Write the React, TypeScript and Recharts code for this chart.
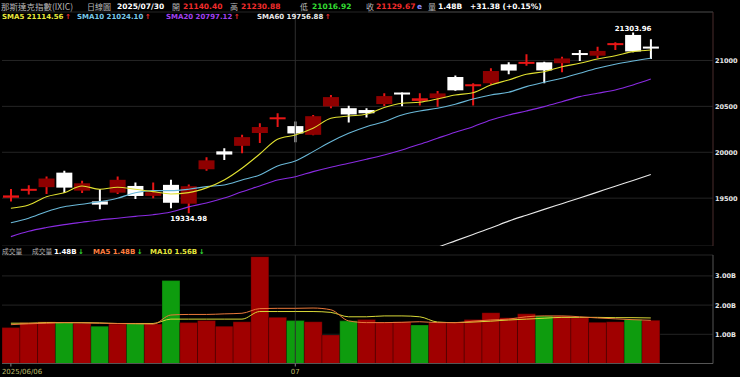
import React from 'react';
import { ComposedChart, Bar, Line, XAxis, YAxis, CartesianGrid, ReferenceLine, Cell } from 'recharts';

const dates = ['2025/06/06','2025/06/09','2025/06/10','2025/06/11','2025/06/12','2025/06/13','2025/06/16','2025/06/17','2025/06/18','2025/06/20','2025/06/23','2025/06/24','2025/06/25','2025/06/26','2025/06/27','2025/06/30','2025/07/01','2025/07/02','2025/07/03','2025/07/07','2025/07/08','2025/07/09','2025/07/10','2025/07/11','2025/07/14','2025/07/15','2025/07/16','2025/07/17','2025/07/18','2025/07/21','2025/07/22','2025/07/23','2025/07/24','2025/07/25','2025/07/28','2025/07/29','2025/07/30'];
const opens  = [19505,19572,19620,19778,19582,19465,19560,19633,19525,19645,19440,19815,20010,20070,20210,20360,20285,20190,20500,20480,20460,20525,20640,20560,20590,20820,20715,20752,20958,20960,20980,20970,21070,21052,21165,21278,21140.40];
const highs  = [19600,19640,19735,19800,19690,19600,19735,19670,19670,19700,19650,19946,20045,20190,20315,20425,20335,20405,20624,20508,20480,20643,20650,20643,20668,20835,20752,20915,20980,21068,20987,21040,21114,21150,21198,21303.96,21230.88];
const lows   = [19465,19540,19545,19555,19555,19380,19545,19490,19500,19390,19334.98,19800,19915,19990,20100,20275,20110,20185,20480,20325,20380,20505,20500,20510,20497,20670,20510,20735,20850,20943,20752,20871,20995,21024,21114,21090,21016.92];
const closes = [19530,19591,19714,19615,19662,19430,19700,19524,19565,19450,19630,19912,19975,20165,20275,20370,20205,20393,20601,20412,20425,20612,20630,20588,20641,20675,20730,20885,20890,20974,20892,21022,21058,21104,21178,21098.29,21129.67];
const sma5  = [19390,19426,19516,19560,19633,19597,19619,19597,19571,19546,19560,19612,19698,19826,19981,20142,20188,20261,20370,20395,20414,20488,20534,20545,20581,20624,20649,20733,20788,20850,20878,20932,20969,21016,21052,21096,21114.56];
const sma10 = [19233,19281,19353,19407,19434,19462,19499,19560,19582,19582,19597,19626,19644,19698,19753,19851,19905,20007,20115,20207,20279,20333,20406,20450,20479,20523,20581,20624,20654,20715,20763,20806,20861,20915,20959,20994,21024.10];
const sma20 = [19081,19140,19180,19212,19238,19263,19282,19302,19320,19350,19405,19448,19502,19570,19633,19698,19734,19789,19837,19880,19924,19971,20025,20087,20153,20218,20279,20352,20406,20450,20497,20551,20606,20643,20679,20733,20797.12];
const sma60: (number | null)[] = [null,null,null,null,null,null,null,null,null,null,null,null,null,null,null,null,null,null,null,null,null,null,null,18900,18965,19035,19105,19175,19250,19315,19378,19440,19502,19566,19630,19693,19756.88];
const volumes = [1.23,1.40,1.43,1.41,1.38,1.28,1.35,1.38,1.35,2.84,1.40,1.47,1.28,1.43,3.66,1.58,1.47,1.43,0.98,1.46,1.51,1.41,1.43,1.32,1.40,1.40,1.51,1.74,1.57,1.70,1.63,1.63,1.57,1.41,1.43,1.51,1.48];
const volUp = [true,true,true,false,true,false,true,false,true,false,true,true,true,true,true,true,false,true,true,false,true,true,true,false,true,true,true,true,true,true,false,true,true,true,true,false,true];
const volMa5  = [1.33,1.36,1.38,1.40,1.39,1.38,1.37,1.36,1.35,1.66,1.68,1.68,1.70,1.72,1.88,1.89,1.89,1.90,1.84,1.46,1.40,1.40,1.41,1.43,1.40,1.40,1.45,1.49,1.52,1.60,1.63,1.63,1.60,1.56,1.53,1.50,1.48];
const volMa10 = [1.38,1.38,1.40,1.40,1.40,1.39,1.37,1.37,1.37,1.52,1.52,1.52,1.52,1.52,1.78,1.78,1.78,1.78,1.75,1.60,1.60,1.63,1.63,1.60,1.42,1.40,1.42,1.45,1.49,1.52,1.55,1.58,1.58,1.58,1.57,1.57,1.56];
const emptySlots = ['pad1', 'pad2', 'pad3'];
const priceTicks = [19500, 20000, 20500, 21000];
const volTicks = [1, 2, 3];
const dateTickLabels: Record<string, string> = { '2025/06/06': '2025/06/06', '2025/07/01': '07' };
const monthStart = '2025/07/01';

const F = "'DejaVu Sans', sans-serif";
const CJK = "'Noto Sans CJK TC', 'Noto Sans CJK SC', sans-serif";
const RED = '#f02c2c';
const GREEN = '#33dd33';

const rows: any[] = [
  ...dates.map((d, i) => ({
    date: d, open: opens[i], high: highs[i], low: lows[i], close: closes[i],
    sma5: sma5[i], sma10: sma10[i], sma20: sma20[i], sma60: sma60[i],
    vol: volumes[i], up: volUp[i], vma5: volMa5[i], vma10: volMa10[i],
  })),
  ...emptySlots.map((d) => ({ date: d })),
];

const maxIdx = highs.indexOf(Math.max(...highs));
const minIdx = lows.indexOf(Math.min(...lows));

const Candle = (p: any) => {
  const { x, y, width, height, payload, index } = p;
  if (!payload || payload.open == null) return null;
  const top = Math.min(y, y + height);
  const h = Math.abs(height);
  const { open, close, high, low } = payload;
  const ratio = h / (high - low);
  const cx = x + width / 2;
  const yOf = (v: number) => top + (high - v) * ratio;
  const up = close > open;
  const bTop = yOf(Math.max(open, close));
  const bBot = yOf(Math.min(open, close));
  const raw = bBot - bTop;
  const bh = Math.max(raw, 2);
  const wick = up ? '#e81616' : '#ffffff';
  const body = up ? (raw < 3 ? '#e81616' : '#8e0000') : '#ffffff';
  return (
    <g>
      <line x1={cx} x2={cx} y1={top} y2={top + h} stroke={wick} strokeWidth={2} />
      <rect x={x} y={raw < 2 ? bTop - 1 : bTop} width={width} height={bh} fill={body} />
      {index === maxIdx && (
        <text x={cx} y={top - 2} textAnchor="middle" fill="#ffffff" fontSize={7} fontWeight="bold" fontFamily={F}>{high.toFixed(2)}</text>
      )}
      {index === minIdx && (
        <text x={cx} y={top + h + 7.5} textAnchor="middle" fill="#ffffff" fontSize={7} fontWeight="bold" fontFamily={F}>{low.toFixed(2)}</text>
      )}
    </g>
  );
};

const PriceTick = (p: any) => (
  <text x={p.x} y={p.y} dy={2.4} fill="#e8e8e8" fontSize={6.5} fontWeight="bold" fontFamily={F} textAnchor="start">{p.payload.value}</text>
);
const VolTick = (p: any) => (
  <text x={p.x} y={p.y} dy={2.4} fill="#e8e8e8" fontSize={6.5} fontWeight="bold" fontFamily={F} textAnchor="start">{`${Number(p.payload.value).toFixed(2)}B`}</text>
);
const DateTick = (p: any) => {
  const lbl = dateTickLabels[p.payload.value];
  if (!lbl) return <g />;
  const first = p.payload.value === dates[0];
  return (
    <g>
      <line x1={p.x} x2={p.x} y1={p.y} y2={p.y + 3} stroke="#888" strokeWidth={1} />
      <text x={first ? p.x - 9 : p.x} y={p.y + 10.5} fill="#bcbc6a" fontSize={7} fontFamily={F} textAnchor={first ? 'start' : 'middle'}>{lbl}</text>
    </g>
  );
};

const n = dates.length;
const last = n - 1;
const arrow = (a: number, b: number) => (a >= b ? { ch: '↑', c: RED } : { ch: '↓', c: GREEN });
const fmt2 = (v: number) => v.toFixed(2);
const change = closes[last] - closes[last - 1];
const pct = (change / closes[last - 1]) * 100;

export default function App() {
  const smaItems = [
    { label: 'SMA5', arr: sma5 as number[], color: '#e8e83a', x: 2 },
    { label: 'SMA10', arr: sma10 as number[], color: '#78c8e8', x: 77 },
    { label: 'SMA20', arr: sma20 as number[], color: '#a040f0', x: 166 },
    { label: 'SMA60', arr: sma60 as number[], color: '#e8e8e8', x: 257 },
  ];
  const volA = arrow(volumes[last], volumes[last - 1]);
  const m5A = arrow(volMa5[last], volMa5[last - 1]);
  const m10A = arrow(volMa10[last], volMa10[last - 1]);
  return (
    <div style={{ position: 'absolute', left: 0, top: 0, width: 740, height: 377, background: '#000', overflow: 'hidden' }}>
      <div style={{ position: 'absolute', left: 0, top: 0 }}>
        <ComposedChart width={740} height={246} data={rows} margin={{ top: 12, right: 0, bottom: 0, left: 2 }} barCategoryGap={0}>
          <CartesianGrid horizontal vertical={false} stroke="#242424" />
          <XAxis dataKey="date" height={0} tick={false} tickLine={false} axisLine={{ stroke: '#555' }} interval={0} />
          <YAxis orientation="right" width={27} domain={[18979, 21528]} ticks={priceTicks} allowDataOverflow interval={0}
            axisLine={{ stroke: '#4a2c2c' }} tickLine={false} tickSize={0} tickMargin={2} tick={<PriceTick />} />
          <ReferenceLine x={monthStart} stroke="#2e2e2e" />
          <Bar dataKey={(d: any) => (d.high == null ? null : [d.low, d.high])} barSize={16} isAnimationActive={false}
            shape={(p: any) => <Candle {...p} />} />
          <Line type="monotone" dataKey="sma60" stroke="#e8e8e8" strokeWidth={1.1} dot={false} isAnimationActive={false} />
          <Line type="monotone" dataKey="sma20" stroke="#8a2be2" strokeWidth={1.1} dot={false} isAnimationActive={false} />
          <Line type="monotone" dataKey="sma10" stroke="#6ab8d8" strokeWidth={1.1} dot={false} isAnimationActive={false} />
          <Line type="monotone" dataKey="sma5" stroke="#e0e030" strokeWidth={1.1} dot={false} isAnimationActive={false} />
        </ComposedChart>
      </div>
      <div style={{ position: 'absolute', left: 0, top: 246 }}>
        <ComposedChart width={740} height={131} data={rows} margin={{ top: 9, right: 0, bottom: 0, left: 2 }} barCategoryGap={0} barGap={0}>
          <CartesianGrid horizontal vertical={false} stroke="#242424" />
          <XAxis dataKey="date" height={13.5} interval={0} tickLine={false} tickSize={0} tickMargin={0} axisLine={{ stroke: '#555' }} tick={<DateTick />} />
          <YAxis orientation="right" width={27} domain={[0, 3.716]} ticks={volTicks} allowDataOverflow interval={0}
            axisLine={{ stroke: '#555' }} tickLine={false} tickSize={0} tickMargin={2} tick={<VolTick />} />
          <ReferenceLine x={monthStart} stroke="#2e2e2e" />
          <Bar dataKey="vol" isAnimationActive={false} stroke="#000" strokeOpacity={0.45} strokeWidth={0.7}>
            {rows.map((r, i) => (
              <Cell key={i} fill={r.up ? '#a00000' : '#0e9c0e'} />
            ))}
          </Bar>
          <Line type="monotone" dataKey="vma10" stroke="#d8d838" strokeWidth={1} dot={false} isAnimationActive={false} />
          <Line type="monotone" dataKey="vma5" stroke="#e8783a" strokeWidth={1} dot={false} isAnimationActive={false} />
        </ComposedChart>
      </div>
      <svg width={740} height={377} style={{ position: 'absolute', left: 0, top: 0, pointerEvents: 'none' }}>
        <line x1={368} x2={713} y1={12} y2={12} stroke="#3a3a3a" strokeWidth={1} />
        <text x={1} y={9.5} fill="#b8b8b8" fontSize={8.5} fontFamily={CJK}>那斯達克指數(IXIC)</text>
        <text x={87} y={9.5} fill="#b8b8b8" fontSize={8} fontFamily={CJK}>日線圖</text>
        <text x={117} y={9} fill="#ffffff" fontSize={7.5} fontWeight="bold" fontFamily={F}>{dates[last]}</text>
        <text x={172} y={9.5} fill="#b8b8b8" fontSize={8} fontFamily={CJK}>開</text>
        <text x={183} y={9} fill={RED} fontSize={7.5} fontWeight="bold" fontFamily={F}>{fmt2(opens[last])}</text>
        <text x={230} y={9.5} fill="#b8b8b8" fontSize={8} fontFamily={CJK}>高</text>
        <text x={241} y={9} fill={RED} fontSize={7.5} fontWeight="bold" fontFamily={F}>{fmt2(highs[last])}</text>
        <text x={300} y={9.5} fill="#b8b8b8" fontSize={8} fontFamily={CJK}>低</text>
        <text x={312} y={9} fill={GREEN} fontSize={7.5} fontWeight="bold" fontFamily={F}>{fmt2(lows[last])}</text>
        <text x={366} y={9.5} fill="#b8b8b8" fontSize={8} fontFamily={CJK}>收</text>
        <text x={376} y={9} fill={RED} fontSize={7.5} fontWeight="bold" fontFamily={F}>{fmt2(closes[last])}</text>
        <text x={417} y={9} fill="#8a8aff" fontSize={7.5} fontWeight="bold" fontFamily={F}>e</text>
        <text x={428} y={9.5} fill="#b8b8b8" fontSize={8} fontFamily={CJK}>量</text>
        <text x={438} y={9} fill="#ffffff" fontSize={7.5} fontWeight="bold" fontFamily={F}>{`${fmt2(volumes[last])}B`}</text>
        <text x={470} y={9} fill="#ffffff" fontSize={7.5} fontWeight="bold" fontFamily={F}>{`${change >= 0 ? '+' : ''}${fmt2(change)} (${change >= 0 ? '+' : ''}${fmt2(pct)}%)`}</text>
        {smaItems.map((s) => {
          const a = arrow(s.arr[last], s.arr[last - 1]);
          return (
            <text key={s.label} x={s.x} y={18.5} fontSize={7} fontWeight="bold" fontFamily={F}>
              <tspan fill={s.color}>{`${s.label} ${fmt2(s.arr[last])}`}</tspan>
              <tspan fill={a.c} dx={1.5}>{a.ch}</tspan>
            </text>
          );
        })}
        <text x={2} y={253.5} fill="#b0b0b0" fontSize={6.8} fontFamily={CJK}>成交量</text>
        <text x={32} y={253.5} fontSize={7} fontWeight="bold" fontFamily={F}>
          <tspan fill="#b0b0b0" fontFamily={CJK} fontWeight="normal" fontSize={6.8}>成交量 </tspan>
          <tspan fill="#ffffff">{`${fmt2(volumes[last])}B`}</tspan>
          <tspan fill={volA.c} dx={1.5}>{volA.ch}</tspan>
        </text>
        <text x={93} y={253.5} fontSize={7} fontWeight="bold" fontFamily={F}>
          <tspan fill="#ff7f3f">{`MA5 ${fmt2(volMa5[last])}B`}</tspan>
          <tspan fill={m5A.c} dx={1.5}>{m5A.ch}</tspan>
        </text>
        <text x={150} y={253.5} fontSize={7} fontWeight="bold" fontFamily={F}>
          <tspan fill="#e6e63c">{`MA10 ${fmt2(volMa10[last])}B`}</tspan>
          <tspan fill={m10A.c} dx={1.5}>{m10A.ch}</tspan>
        </text>
      </svg>
    </div>
  );
}
